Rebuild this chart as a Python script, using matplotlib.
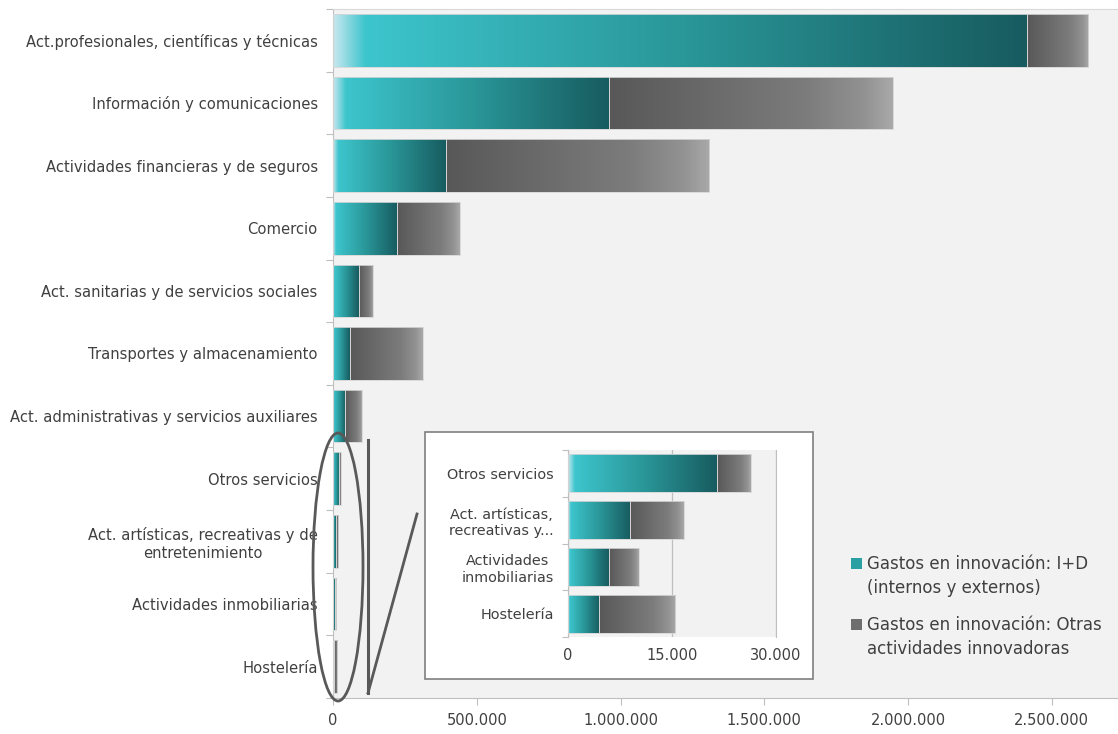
import numpy as np
import matplotlib
matplotlib.use("Agg")
import matplotlib.pyplot as plt
from matplotlib.colors import LinearSegmentedColormap
from matplotlib.patches import Ellipse, Rectangle
from matplotlib.lines import Line2D
from matplotlib.ticker import FuncFormatter, FixedLocator

# Gasto en innovación por rama de actividad (servicios)
sectores = [
    "Act.profesionales, científicas y técnicas",
    "Información y comunicaciones",
    "Actividades financieras y de seguros",
    "Comercio",
    "Act. sanitarias y de servicios sociales",
    "Transportes y almacenamiento",
    "Act. administrativas y servicios auxiliares",
    "Otros servicios",
    "Act. artísticas, recreativas y de\nentretenimiento",
    "Actividades inmobiliarias",
    "Hostelería",
]
gasto_id = [2413000, 960000, 393000, 223000, 90000, 59000, 42000,
            21500, 9000, 5900, 4500]
gasto_otras = [214000, 987000, 916000, 219000, 48000, 253000, 59000,
               4900, 7700, 4300, 11000]

# Detalle de las ramas más pequeñas
detalle_sectores = ["Otros servicios", "Act. artísticas,\nrecreativas y...",
                    "Actividades\ninmobiliarias", "Hostelería"]
detalle_id = gasto_id[7:]
detalle_otras = gasto_otras[7:]

ticks_principal = [0, 500000, 1000000, 1500000, 2000000, 2500000]
ticks_detalle = [0, 15000, 30000]

serie_id = "Gastos en innovación: I+D\n(internos y externos)"
serie_otras = "Gastos en innovación: Otras\nactividades innovadoras"

TEXT = "#404040"
plt.rcParams["font.family"] = ["DejaVu Sans"]

cmap_id = LinearSegmentedColormap.from_list(
    "id", [(0.0, "#c4e6ee"), (0.045, "#3dc5cd"), (0.5, "#2a9799"), (1.0, "#175b5f")])
cmap_otras = LinearSegmentedColormap.from_list(
    "otras", [(0.0, "#585858"), (0.7, "#7c7c7c"), (0.9, "#929292"), (1.0, "#a9a9a9")])
grad = np.linspace(0, 1, 256).reshape(1, -1)


def miles(x, pos=None):
    return f"{int(round(x)):,}".replace(",", ".")


def barras_gradiente(ax, y, izq, ancho, cmap, height):
    bars = ax.barh(y, ancho, left=izq, height=height, facecolor="none",
                   edgecolor="#d6d6d6", linewidth=0.6, zorder=3)
    for p in bars.patches:
        x0, y0 = p.get_x(), p.get_y()
        w, h = p.get_width(), p.get_height()
        if w <= 0:
            continue
        im = ax.imshow(grad, cmap=cmap, aspect="auto", interpolation="bilinear",
                       extent=(x0, x0 + w, y0 + h, y0), zorder=2)
        im.set_clip_path(p)
    return bars


W, H = 1118, 734
fig = plt.figure(figsize=(W / 100, H / 100), dpi=100)
fig.patch.set_facecolor("white")

# Gráfico principal
ax = fig.add_axes([333 / W, 1 - 698 / H, (W - 333) / W, (698 - 9) / H])
ax.set_facecolor("#f2f2f2")
y = np.arange(len(sectores))
barras_gradiente(ax, y, 0, gasto_id, cmap_id, 0.84)
barras_gradiente(ax, y, gasto_id, gasto_otras, cmap_otras, 0.84)
ax.set_xlim(0, 2.73e6)
ax.set_ylim(len(sectores) - 0.5, -0.5)
ax.set_yticks(y)
ax.set_yticklabels(sectores, fontsize=10.6, color=TEXT, multialignment="center")
ax.yaxis.set_minor_locator(FixedLocator(np.arange(-0.5, len(sectores), 1.0)))
ax.tick_params(axis="y", which="major", length=0, pad=11)
ax.tick_params(axis="y", which="minor", length=5, color="#bfbfbf", width=0.8)
ax.xaxis.set_major_locator(FixedLocator(ticks_principal))
ax.xaxis.set_major_formatter(FuncFormatter(miles))
ax.tick_params(axis="x", length=5, color="#bfbfbf", width=0.8, labelsize=10.5,
               labelcolor=TEXT, pad=6)
for s in ("left", "bottom"):
    ax.spines[s].set_color("#bfbfbf")
ax.spines["top"].set_color("#d9d9d9")
ax.spines["right"].set_visible(False)

# Recuadro de detalle
fig.add_artist(Rectangle((425 / W, 1 - 679 / H), (813 - 425) / W, (679 - 432) / H,
                         transform=fig.transFigure, facecolor="white",
                         edgecolor="#7f7f7f", linewidth=1.2, zorder=3))
axi = fig.add_axes([568 / W, 1 - 637 / H, (776 - 568) / W, (637 - 450) / H])
axi.set_zorder(4)
axi.set_facecolor("#f2f2f2")
yi = np.arange(len(detalle_sectores))
barras_gradiente(axi, yi, 0, detalle_id, cmap_id, 0.81)
barras_gradiente(axi, yi, detalle_id, detalle_otras, cmap_otras, 0.81)
axi.set_xlim(0, 30000)
axi.set_ylim(len(detalle_sectores) - 0.5, -0.5)
axi.set_yticks(yi)
axi.set_yticklabels(detalle_sectores, fontsize=10.4, color=TEXT,
                    multialignment="center")
axi.yaxis.set_minor_locator(FixedLocator(np.arange(-0.5, len(detalle_sectores), 1.0)))
axi.tick_params(axis="y", which="major", length=0, pad=10)
axi.tick_params(axis="y", which="minor", length=4, color="#bfbfbf", width=0.8)
axi.xaxis.set_major_locator(FixedLocator(ticks_detalle))
axi.xaxis.set_major_formatter(FuncFormatter(miles))
axi.tick_params(axis="x", length=0, labelsize=10.5, labelcolor=TEXT, pad=8)
axi.grid(axis="x", color="#bfbfbf", linewidth=0.9)
axi.set_axisbelow(True)
for s in ("top", "bottom"):
    axi.spines[s].set_visible(False)
axi.spines["right"].set_color("#bfbfbf")
axi.spines["left"].set_color("#bfbfbf")

# Marca de ampliación
fig.add_artist(Ellipse((338 / W, 1 - 567 / H), 50 / W, 268 / H,
                       transform=fig.transFigure, fill=False,
                       edgecolor="#595959", linewidth=2, zorder=5))
fig.add_artist(Line2D([368 / W, 368 / W], [1 - 440 / H, 1 - 693 / H],
                      transform=fig.transFigure, color="#595959",
                      linewidth=2.2, zorder=5))
fig.add_artist(Line2D([368 / W, 417 / W], [1 - 693 / H, 1 - 514 / H],
                      transform=fig.transFigure, color="#595959",
                      linewidth=2, zorder=5))

# Leyenda: marcador alineado con la primera línea de cada serie
for texto, color, ytop in ((serie_id, "#2a9fa4", 555), (serie_otras, "#6e6e6e", 616)):
    fig.add_artist(Rectangle((851 / W, 1 - (ytop + 14) / H), 11 / W, 11 / H,
                             transform=fig.transFigure, facecolor=color,
                             edgecolor="none", zorder=5))
    fig.text(867 / W, 1 - ytop / H, texto, fontsize=12, color=TEXT,
             va="top", ha="left", linespacing=1.45)

fig.savefig("out.png", dpi=100)
